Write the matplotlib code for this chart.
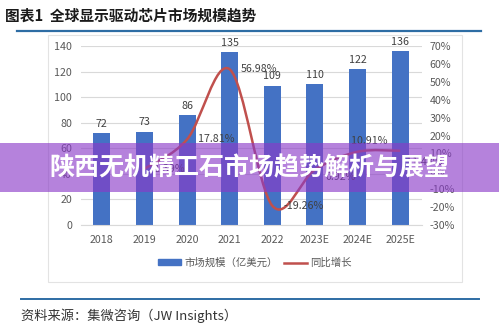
import numpy as np
import matplotlib
matplotlib.use("Agg")
import matplotlib.pyplot as plt
from matplotlib.path import Path
from matplotlib.patches import PathPatch, Rectangle
from matplotlib.lines import Line2D
from matplotlib.ticker import FuncFormatter, MultipleLocator

plt.rcParams['font.family'] = ['Noto Sans CJK SC', 'DejaVu Sans']

# data
years = ["2018", "2019", "2020", "2021", "2022", "2023E", "2024E", "2025E"]
market = [72, 73, 86, 135, 109, 110, 122, 136]          # 亿美元
growth = [1.39, 17.81, 56.98, -19.26, 0.92, 10.91, 11.48]  # %, 2019 onwards
growth_labels = ["1.39%", "17.81%", "56.98%", "-19.26%", "0.92%", "10.91%", "11.48%"]
# label offsets in pixels (dx, dy) from each growth point
label_off = [(10, 0), (11, 0), (11, 0), (11, 0), (11, -7), (-7, 11), (6, -11)]

BAR = "#4472c4"
LINE = "#c0504d"
GRID = "#d9d9d9"
TXT = "#595959"
BLUE_RULE = "#2e6da4"

W, H = 499, 331
fig = plt.figure(figsize=(W / 100, H / 100), dpi=100)
fig.patch.set_facecolor("white")


def fx(px):
    return px / W


def fy(py):
    return 1 - py / H


# title + rules
fig.text(fx(5), fy(16), "图表1  全球显示驱动芯片市场规模趋势", fontsize=10.6,
         fontweight="bold", color="#1a1a1a", va="center", ha="left")
fig.add_artist(Line2D([fx(17), fx(481)], [fy(31), fy(31)], color=BLUE_RULE, lw=1.6))
fig.add_artist(Line2D([fx(21), fx(479)], [fy(299), fy(299)], color=BLUE_RULE, lw=1.4))
fig.text(fx(21), fy(316), "资料来源：集微咨询（JW Insights）", fontsize=9.5,
         color="#333333", va="center", ha="left", style="italic")

# light chart frame
fig.add_artist(Rectangle((fx(48), fy(282)), fx(462) - fx(48), fy(35) - fy(282),
                         transform=fig.transFigure, fill=False,
                         edgecolor="#e3e3e3", lw=0.8))

ax = fig.add_axes([fx(80.5), fy(225), fx(421.5) - fx(80.5), fy(46) - fy(225)])
x = np.arange(len(years))
ax.bar(x, market, width=0.4, color=BAR, zorder=2)
ax.set_xlim(-0.5, len(years) - 0.5)
ax.set_ylim(0, 140)
ax.yaxis.set_major_locator(MultipleLocator(20))
ax.set_xticks(x)
ax.set_xticklabels(years)
ax.grid(axis="y", color=GRID, lw=0.8, zorder=0)
for s in ["top", "right", "left"]:
    ax.spines[s].set_visible(False)
ax.spines["bottom"].set_color(GRID)
ax.tick_params(length=0, labelsize=7.7, colors=TXT)
ax.tick_params(axis="x", pad=7)
ax.tick_params(axis="y", pad=6)

for xi, v in zip(x, market):
    ax.annotate(str(v), (xi, v), xytext=(0, 3), textcoords="offset points",
                ha="center", va="bottom", fontsize=7.7, color="#404040")

ax2 = ax.twinx()
ax2.set_ylim(-30, 70)
ax2.yaxis.set_major_locator(MultipleLocator(10))
ax2.yaxis.set_major_formatter(FuncFormatter(lambda v, p: f"{v:.0f}%"))
for s in ax2.spines.values():
    s.set_visible(False)
ax2.tick_params(length=0, labelsize=7.7, colors=TXT, pad=6)

# smoothed growth line (Catmull-Rom -> cubic Bezier through the points)
gx = x[1:].astype(float)
gy = np.array(growth, dtype=float)
pts = np.column_stack([gx, gy])
ext = np.vstack([pts[0], pts, pts[-1]])
verts = [tuple(pts[0])]
codes = [Path.MOVETO]
for i in range(len(pts) - 1):
    p0, p1, p2, p3 = ext[i], ext[i + 1], ext[i + 2], ext[i + 3]
    c1 = p1 + (p2 - p0) / 6
    c2 = p2 - (p3 - p1) / 6
    verts += [tuple(c1), tuple(c2), tuple(p2)]
    codes += [Path.CURVE4] * 3
ax2.add_patch(PathPatch(Path(verts, codes), fill=False, edgecolor=LINE,
                        lw=1.8, zorder=3))

for (xi, yi), lab, (dx, dy) in zip(pts, growth_labels, label_off):
    ax2.annotate(lab, (xi, yi), xytext=(dx * 0.72, dy * 0.72),
                 textcoords="offset points", ha="left", va="center",
                 fontsize=7.7, color="#404040")

# legend
handles = [Rectangle((0, 0), 1, 1, color=BAR),
           Line2D([0], [0], color=LINE, lw=1.8)]
fig.legend(handles, ["市场规模（亿美元）", "同比增长"], loc="center",
           bbox_to_anchor=(fx(255), fy(263)), ncol=2, frameon=False,
           fontsize=7.5, labelcolor=TXT, handlelength=2.2, handleheight=0.5,
           columnspacing=0.6, handletextpad=0.3)

# purple banner overlay (semi-transparent, chart shows through)
fig.add_artist(Rectangle((0, fy(192)), 1, fy(143) - fy(192),
                         transform=fig.transFigure, facecolor="#8a3ac8",
                         alpha=0.63, edgecolor="none", zorder=10))
fig.text(0.5, fy(168), "陕西无机精工石市场趋势解析与展望", fontsize=18,
         fontweight="bold", color="white", ha="center", va="center", zorder=11)

fig.savefig("out.png", dpi=100)
